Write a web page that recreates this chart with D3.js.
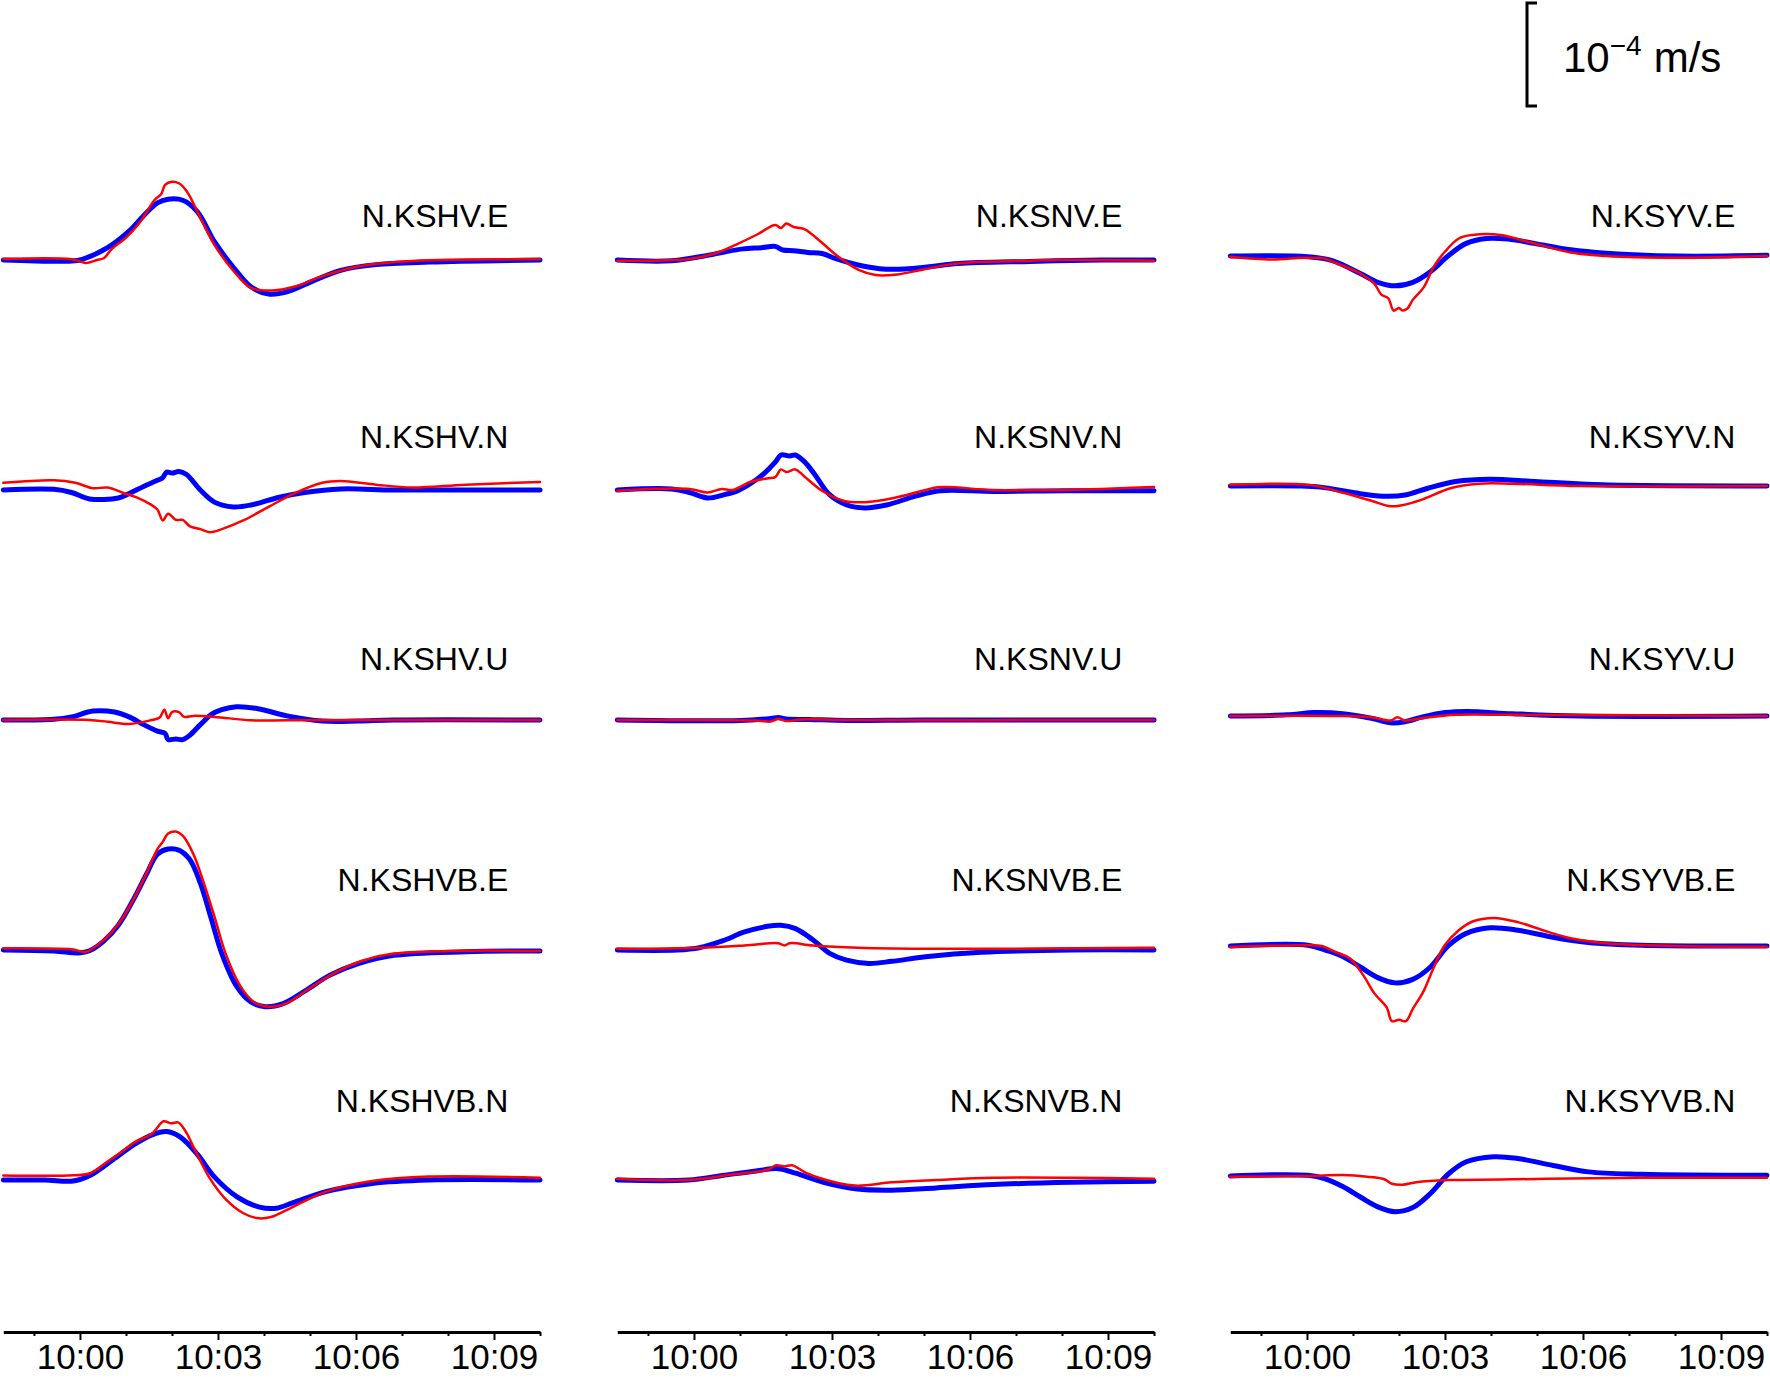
<!DOCTYPE html>
<html><head><meta charset="utf-8">
<script src="https://cdn.jsdelivr.net/npm/d3@7"></script>
<style>
body{margin:0;background:#fff}
svg{display:block}
text{font-family:"Liberation Sans",Arial,Helvetica,sans-serif;fill:#000}
</style>
</head><body>
<svg id="chart" width="1770" height="1378"></svg>
<script>
// ---------------- DATA ----------------
// time in seconds relative to 10:00, velocity in µm/s (10^-6 m/s)
const stationLabels = [
  ["N.KSHV.E","N.KSHV.N","N.KSHV.U","N.KSHVB.E","N.KSHVB.N"],
  ["N.KSNV.E","N.KSNV.N","N.KSNV.U","N.KSNVB.E","N.KSNVB.N"],
  ["N.KSYV.E","N.KSYV.N","N.KSYV.U","N.KSYVB.E","N.KSYVB.N"]
];
const tickLabels = ["10:00","10:03","10:06","10:09"];
const majorTicks = [0,180,360,540];
const minorTicks = [-60,60,120,240,300,420,480,600];
const timeDomain = [-100,600];
const scaleBarValue = 100; // µm/s = 10^-4 m/s

const KSHV_E_blue = [[-100,0],[-11,-1],[3,0.7],[36,12],[64,28],[83,43],[101,55.5],[115,59],[134,58],[153,47],[176,17],[200,-7],[223,-26],[246,-33],[270,-31],[302,-21],[340,-10],[386,-4.5],[456,-2],[600,0]];
const KSHV_E_red = [[-100,1],[-11,0.7],[8,-2.8],[22,0],[31,1.7],[41,10.4],[59,21],[78,36.5],[97,58],[106,64],[111,73],[120,76],[129,74.5],[139,67],[157,41],[176,14],[200,-10.4],[223,-27],[251,-29.6],[279,-26],[316,-15.7],[363,-6.3],[433,-1],[600,0.7]];
const KSHV_N_blue = [[-100,0],[-34,0.7],[-11,-2.4],[12.5,-8.7],[50,-7.7],[64,-3.5],[83,3.5],[101,9.4],[108,12],[113,17.4],[120,16.4],[129,18],[139,15],[157,0],[176,-12],[200,-16.4],[223,-14.6],[260,-7],[293,-2.4],[340,1],[409,0],[503,0],[600,0]];
const KSHV_N_red = [[-100,7],[-34,9.4],[-6,7],[17,1.7],[36,2.4],[55,-2.4],[73,-7],[92,-14],[101,-19],[108,-29.6],[115,-23],[125,-29],[134,-29],[143,-35],[157,-38],[169,-41],[185,-38],[213,-29.6],[246,-16.4],[279,-3.5],[316,7],[340,8.7],[386,5.2],[433,2.4],[503,5.2],[600,7.7]];
const KSHV_U_blue = [[-100,0],[-34,0.7],[-11,3],[17,8.7],[45,7.7],[64,3],[83,-4.5],[101,-10.8],[111,-13],[115,-19],[125,-18.4],[134,-19],[143,-15],[157,-4.5],[171,5.2],[185,10],[204,12.9],[232,11],[270,4],[316,-1],[363,-1],[409,0],[600,0]];
const KSHV_U_red = [[-100,0],[12.5,0],[36,-1.7],[64,-3.8],[92,-0.3],[104,2.4],[110,10],[115,1.7],[120,7.7],[129,7.7],[136,3],[148,4],[176,3],[223,-0.3],[270,-0.3],[363,0],[600,0]];
const KSHVB_E_blue = [[-100,0],[-34,-1],[-1.5,-2.8],[12.5,-0.7],[31,8.7],[50,24],[69,48],[87,74],[101,93],[115,98],[129,97],[143,88],[157,65],[171,31],[185,-3.5],[204,-34.8],[223,-50.5],[241.5,-55],[265,-52],[293,-40],[326,-24.4],[363,-13.2],[409,-5.2],[503,-1.7],[600,-1]];
const KSHVB_E_red = [[-100,1.7],[-11,0.7],[8,-1.7],[31,9.7],[50,25],[69,48],[87,75],[101,98],[108,105],[115,113],[125,115],[134,111],[148,93],[162,64],[176,31],[190,-3.5],[209,-34.8],[227,-50.5],[246,-55],[270,-51.5],[298,-38],[331,-22.6],[368,-10.4],[409,-3.5],[503,-0.7],[600,-1]];
const KSHVB_N_blue = [[-100,0],[-46,0],[-9,-1],[13,4.4],[43,19.7],[72,35],[94,43.8],[113,47],[131,41.6],[153,25],[175,3.3],[205,-16.4],[234,-26.3],[256,-27.4],[278,-22],[322,-11],[381,-3.3],[455,0],[600,0]];
const KSHVB_N_red = [[-100,4.4],[-16,4.4],[13,6.6],[35,17.5],[50,25],[72,37],[94,45],[109,57],[119,55],[128,56],[138,47],[149,30.7],[168,3.3],[190,-18.6],[212,-31.8],[231,-37],[249,-36],[278,-26],[322,-11],[381,-1],[455,3.3],[600,2.2]];

const KSNV_E_blue = [[-100,0],[-29,-0.7],[17.6,4.5],[41,8],[64,10.8],[88,12],[106,13.2],[116,9.7],[130,9],[148.5,7.3],[167,6.3],[186,1],[214,-4.9],[242,-8.4],[275,-8.7],[307,-6.6],[345,-3.5],[438,-1.4],[532,0],[600,0]];
const KSNV_E_red = [[-100,-0.7],[-6,1],[27,6.3],[55,15],[83,25],[106,34],[113.5,31],[120.5,35.5],[130,32],[144,30],[167,16.7],[186,4.5],[214,-9.4],[237,-14.6],[265,-14],[298,-9.4],[345,-3.1],[438,-0.7],[485,0.3],[600,-0.7]];
const KSNV_N_blue = [[-100,0],[-29,1],[-5.7,-2.4],[17.6,-7.7],[41,-4.2],[55,-1.4],[74,6.3],[92.4,16.7],[106,27],[113.5,34],[125,33],[132,34],[144,27.5],[158,14.6],[176.5,-4.2],[200,-14.6],[223,-17.4],[251,-14.6],[288.7,-6],[321,-0.7],[391,-1.4],[485,-0.7],[600,-0.7]];
const KSNV_N_red = [[-100,-0.7],[-5.7,1],[17.6,-2.4],[36.3,1],[50,0],[74,8],[97,11.5],[106,12.5],[113.5,20],[120.5,17.4],[132,20],[144,13.2],[167,-0.7],[195,-10.4],[223,-11.8],[260.7,-7.7],[298,-0.7],[321,2.8],[391,0],[485,0],[600,2.8]];
const KSNV_U_blue = [[-100,0],[60,-0.5],[100,1.5],[110,2.5],[120,1],[150,0.5],[200,-0.5],[300,0],[600,0]];
const KSNV_U_red = [[-100,0],[80,-0.5],[100,-1.5],[110,1],[120,-1],[140,0.5],[200,0],[600,0]];
const KSNVB_E_blue = [[-100,0],[-22,0],[7,2.2],[37,8.8],[66,17.5],[96,23],[113,24],[132.5,20.8],[155,9.9],[177,-3.3],[199,-9.9],[228,-13],[258,-11],[302,-6.6],[375,-2.2],[493,0],[600,0]];
const KSNVB_E_red = [[-100,1.1],[7,2.2],[66,4.4],[110,6.6],[118,4.4],[125,6.6],[155,4.4],[214,2.2],[317,1.1],[600,2.2]];
const KSNVB_N_blue = [[-100,0],[-7,0],[37,4.4],[81,8.8],[110,11],[132.5,6.6],[169,-2.2],[213,-8.8],[258,-9.9],[316,-7.7],[390,-4.4],[493,-2.2],[600,-1.1]];
const KSNVB_N_red = [[-100,1.1],[-7,0],[51.5,5.5],[96,9.9],[107,14.3],[118,13.2],[128,14.3],[147,6.6],[184,-2.2],[213,-5.5],[258,-2.2],[316,0],[390,2.2],[493,2.2],[600,1.1]];

const KSYV_E_blue = [[-100,0],[1,-0.7],[33,-4.4],[69.6,-17],[92.4,-25.6],[115,-29],[138,-25.6],[161,-15.3],[184,0],[207,12],[234,17],[262,16.4],[298,12],[344,6],[390,2.7],[481,0],[600,0.7]];
const KSYV_E_red = [[-100,-0.7],[-45,-3.4],[-3.6,-1.7],[24,-2.7],[37.5,-6.8],[69.6,-17],[87.9,-27],[97,-37.5],[106,-41],[113,-53],[120,-50.4],[124.5,-53],[131,-51],[138,-42.6],[152,-30.7],[165.6,-10],[179,3.4],[198,17],[216,20.4],[252.6,20.4],[289,13.6],[344,3.4],[390,0],[481,-1.7],[600,0]];
const KSYV_N_blue = [[-100,0],[-12,0],[17.7,-1.1],[62,-6.6],[98.6,-9.9],[128,-8.8],[157.5,-2.2],[194,4.4],[238.5,6.6],[297,4.4],[386,1.1],[600,0]];
const KSYV_N_red = [[-100,1.1],[3,1.1],[47,-6.6],[84,-14.3],[109,-19.7],[124,-18.6],[150,-13.2],[187,-2.2],[224,2.2],[268,2.2],[356,0],[600,0]];
const KSYV_U_blue = [[-100,0],[-26.5,1.1],[10,3.3],[47,2.2],[84,-2.2],[109,-6.6],[128,-5.5],[150,-1.1],[180,3.3],[209,4.4],[268,2.2],[356,0],[600,0]];
const KSYV_U_red = [[-100,0],[32,0],[84,-1.1],[109,-4.4],[118,-1.1],[128,-4.4],[150,-2.2],[194,1.1],[268,1.1],[600,0]];
const KSYVB_E_blue = [[-100,0],[1,0.7],[23.8,-4],[46.7,-10.2],[69.6,-20.4],[92.4,-30.7],[115,-35.8],[138,-32.4],[161,-20.4],[184,0],[207,12],[238.9,17.7],[275,15.3],[321,8.5],[367,3.4],[435.6,0.7],[600,0]];
const KSYVB_E_red = [[-100,-1],[1,0.7],[19.3,0],[37.5,-6],[55.8,-11.9],[74,-29],[87.9,-46],[104,-59.6],[110.7,-73],[120,-71.5],[129,-73],[138,-61],[152,-44],[165.6,-20.4],[179,0],[198,15.3],[216,23.8],[243.5,27.3],[275,23.2],[307.5,15.3],[344,7.5],[390,2.7],[481,0],[600,-0.7]];
const KSYVB_N_blue = [[-100,0],[1,0.7],[23.8,-2.7],[46.7,-10.2],[69.6,-20.4],[92.4,-30],[115,-34.7],[138,-30.7],[161,-17],[184,1.7],[207,13.6],[243.5,18.7],[275,17],[321,10.2],[367,4],[435.6,1.7],[600,0.7]];
const KSYVB_N_red = [[-100,-0.7],[1,0],[46.7,1],[78.7,-0.7],[101.6,-3.4],[110.7,-7.5],[124.5,-8.5],[142.8,-6],[184,-4],[252.6,-3.4],[344,-2.4],[435.6,-1.7],[600,-1.7]];

const blueSeries = [
  [KSHV_E_blue,KSHV_N_blue,KSHV_U_blue,KSHVB_E_blue,KSHVB_N_blue],
  [KSNV_E_blue,KSNV_N_blue,KSNV_U_blue,KSNVB_E_blue,KSNVB_N_blue],
  [KSYV_E_blue,KSYV_N_blue,KSYV_U_blue,KSYVB_E_blue,KSYVB_N_blue]
];
const redSeries = [
  [KSHV_E_red,KSHV_N_red,KSHV_U_red,KSHVB_E_red,KSHVB_N_red],
  [KSNV_E_red,KSNV_N_red,KSNV_U_red,KSNVB_E_red,KSNVB_N_red],
  [KSYV_E_red,KSYV_N_red,KSYV_U_red,KSYVB_E_red,KSYVB_N_red]
];

// ---------------- LAYOUT ----------------
const colX0 = [3.3, 617.3, 1230.3], colW = 536.7;
const colYShift = [0, 0, -4];
const rowZero = (i, c) => 260 + 230*i + colYShift[c];
const labelBase = i => 227 + 221.3*i;
const pxPerUnit = 1.03;           // px per µm/s
const axisY = 1332;
const t0 = Date.UTC(2024,0,1,10,0,0);
const toDate = s => new Date(t0 + s*1000);

const svg = d3.select("#chart");

for (let c = 0; c < 3; c++) {
  const x = d3.scaleUtc().domain(timeDomain.map(toDate)).range([colX0[c], colX0[c]+colW]);
  for (let r = 0; r < 5; r++) {
    const z = rowZero(r, c);
    const y = d3.scaleLinear().domain([-100,100]).range([z + 100*pxPerUnit, z - 100*pxPerUnit]);
    const line = d3.line().x(d => x(toDate(d[0]))).y(d => y(d[1])).curve(d3.curveCatmullRom.alpha(0.5));
    svg.append("path").attr("d", line(blueSeries[c][r]))
      .attr("fill","none").attr("stroke","#0000ff").attr("stroke-width",5)
      .attr("stroke-linejoin","round").attr("stroke-linecap","round");
    svg.append("path").attr("d", line(redSeries[c][r]))
      .attr("fill","none").attr("stroke","#ff0000").attr("stroke-width",2.5)
      .attr("stroke-linejoin","round").attr("stroke-linecap","round");
    svg.append("text").attr("x", colX0[c] + 505).attr("y", labelBase(r))
      .attr("text-anchor","end").attr("font-size",32).text(stationLabels[c][r]);
  }
  // axis
  const gMinor = svg.append("g").attr("transform",`translate(0,${axisY})`)
    .call(d3.axisBottom(x).tickValues(minorTicks.map(toDate)).tickSize(4).tickSizeOuter(0).tickFormat(""));
  gMinor.select(".domain").remove();
  gMinor.selectAll(".tick line").attr("stroke","#000").attr("stroke-width",2);
  const g = svg.append("g").attr("transform",`translate(0,${axisY})`)
    .call(d3.axisBottom(x).tickValues(majorTicks.map(toDate)).tickSize(8).tickSizeOuter(0).tickPadding(4)
      .tickFormat((d,i) => tickLabels[i]));
  g.select(".domain").attr("stroke","#000").attr("stroke-width",3);
  g.selectAll(".tick line").attr("stroke","#000").attr("stroke-width",2);
  g.selectAll(".tick text").attr("font-size",35).attr("font-family","'Liberation Sans',Arial,Helvetica,sans-serif").attr("fill","#000");
}

// scale bar
const sbTop = 3, sbBot = sbTop + scaleBarValue*pxPerUnit, sbX = 1527;
svg.append("path").attr("d",`M${sbX+10},${sbTop}H${sbX}V${sbBot}H${sbX+10}`)
  .attr("fill","none").attr("stroke","#000").attr("stroke-width",3);
const st = svg.append("text").attr("x",1563).attr("y",72).attr("font-size",42);
st.append("tspan").text("10");
st.append("tspan").attr("font-size",28).attr("dy",-17).text("\u22124");
st.append("tspan").attr("dy",17).attr("dx",12).text("m/s");
</script>
</body></html>
